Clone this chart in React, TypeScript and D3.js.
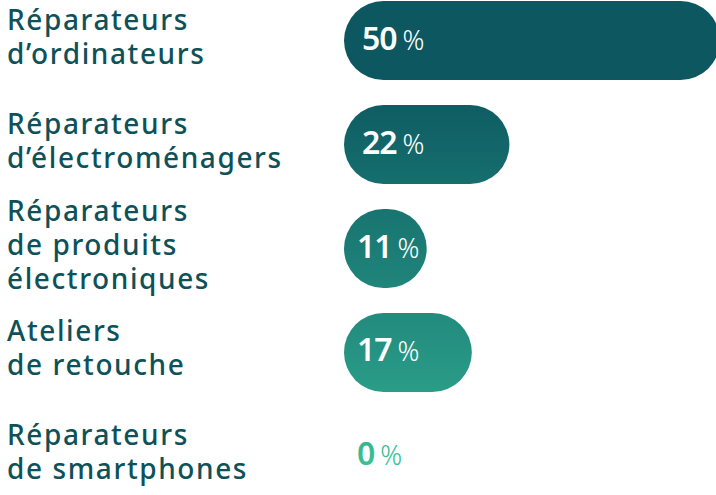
import React, { useEffect, useRef } from "react";
import * as d3 from "d3";

const categories = [
  "ordinateurs",
  "electromenagers",
  "electroniques",
  "retouche",
  "smartphones",
];
const labelLines = [
  ["Réparateurs", "d’ordinateurs"],
  ["Réparateurs", "d’électroménagers"],
  ["Réparateurs", "de produits", "électroniques"],
  ["Ateliers", "de retouche"],
  ["Réparateurs", "de smartphones"],
];
const values = [50, 22, 11, 17, 0];

const W = 716;
const H = 495;

export default function App() {
  const ref = useRef<SVGSVGElement>(null);

  useEffect(() => {
    const svg = d3.select(ref.current);
    svg.selectAll("*").remove();

    const x = d3.scaleLinear().domain([0, 50]).range([344, 720]);
    const y = d3
      .scaleBand()
      .domain(categories)
      .range([1, 496])
      .paddingInner(0.24)
      .paddingOuter(0);

    // vertical gradient shared by every bar
    const grad = svg
      .append("defs")
      .append("linearGradient")
      .attr("id", "barGrad")
      .attr("gradientUnits", "userSpaceOnUse")
      .attr("x1", 0)
      .attr("y1", 0)
      .attr("x2", 0)
      .attr("y2", H);
    grad.append("stop").attr("offset", 0.16).attr("stop-color", "#0c5760");
    grad.append("stop").attr("offset", 0.8).attr("stop-color", "#2a9d88");
    grad.append("stop").attr("offset", 0.93).attr("stop-color", "#3cbe93");

    const bh = y.bandwidth();
    const data = categories.map((c, i) => ({ c, v: values[i], lines: labelLines[i] }));

    svg
      .append("g")
      .selectAll("rect")
      .data(data.filter((d) => d.v > 0))
      .enter()
      .append("rect")
      .attr("x", x(0))
      .attr("y", (d) => y(d.c)!)
      .attr("width", (d) => Math.max(bh, x(d.v) - x(0)))
      .attr("height", bh)
      .attr("rx", bh / 2)
      .attr("fill", "url(#barGrad)");

    // value labels
    const vals = svg
      .append("g")
      .selectAll("text")
      .data(data)
      .enter()
      .append("text")
      .attr("x", (d) => (d.v >= 20 ? 362 : 357))
      .attr("y", (d) => y(d.c)! + bh / 2 + 9)
      .attr("fill", (d) => (d.v > 0 ? "#ffffff" : "url(#barGrad)"))
      .style("font-family", "'Noto Sans', sans-serif");
    vals
      .append("tspan")
      .style("font-size", "32px")
      .style("font-weight", 600)
      .style("letter-spacing", "-1px")
      .text((d) => d.v);
    vals
      .append("tspan")
      .attr("dx", 6)
      .style("font-size", "27px")
      .style("font-weight", 300)
      .text("%");

    // category labels
    const lh = 34;
    const labels = svg
      .append("g")
      .selectAll("text")
      .data(data)
      .enter()
      .append("text")
      .attr("fill", "#0e5158")
      .style("font-family", "'Noto Sans', sans-serif")
      .style("font-size", "28px")
      .style("font-weight", 500)
      .style("letter-spacing", "1.6px");
    labels
      .selectAll("tspan")
      .data((d) =>
        d.lines.map((t, j) => ({
          t,
          yy: y(d.c)! + bh / 2 + 6 + (j - (d.lines.length - 1) / 2) * lh,
        }))
      )
      .enter()
      .append("tspan")
      .attr("x", 7)
      .attr("y", (d) => d.yy)
      .text((d) => d.t);
  }, []);

  return (
    <svg
      ref={ref}
      width={W}
      height={H}
      style={{ position: "absolute", left: 0, top: 0, background: "#fff" }}
    ></svg>
  );
}
